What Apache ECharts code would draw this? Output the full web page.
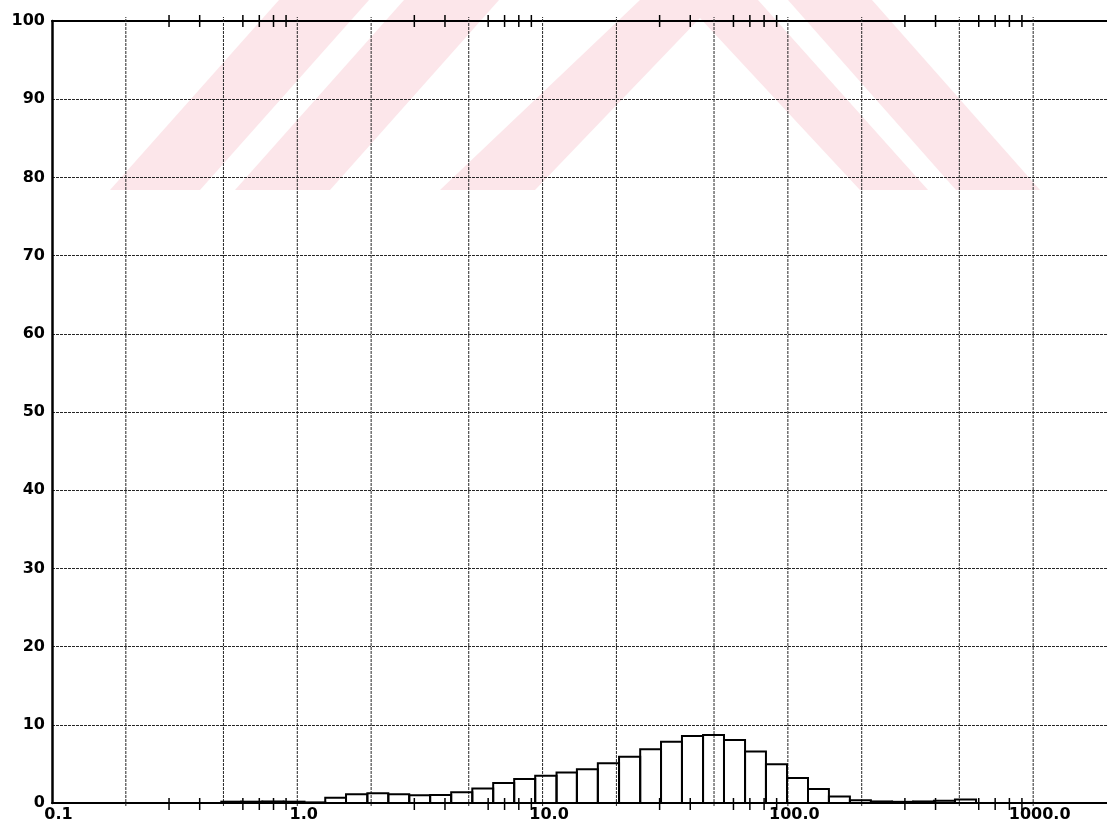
<!DOCTYPE html>
<html>
<head>
<meta charset="utf-8">
<title>Particle size distribution</title>
<script src="https://cdn.jsdelivr.net/npm/echarts@6/dist/echarts.min.js"></script>
<style>
  html, body { margin: 0; padding: 0; background: #ffffff; }
  #chart { width: 1107px; height: 829px; }
</style>
</head>
<body>
<div id="chart"></div>
<script>
// Size classes (lower/upper edges, log-spaced) and volume % in each class
const binEdges = [0.49, 0.59, 0.72, 0.88, 1.07, 1.30, 1.58, 1.93, 2.35, 2.86, 3.48,
  4.24, 5.17, 6.29, 7.66, 9.33, 11.4, 13.8, 16.8, 20.5, 25.0, 30.4, 37.0, 45.1,
  54.9, 66.9, 81.4, 99.2, 120.8, 147, 179, 218, 266, 324, 394, 480, 585];
const binValues = [0.17, 0.17, 0.2, 0.17, 0.08, 0.68, 1.11, 1.24, 1.11, 0.98, 1.02,
  1.38, 1.85, 2.55, 3.07, 3.49, 3.91, 4.33, 5.07, 5.92, 6.87, 7.84, 8.57, 8.70,
  8.06, 6.58, 4.95, 3.2, 1.79, 0.84, 0.35, 0.2, 0.15, 0.2, 0.3, 0.45];

// Axis layout
const xLabelValues = [0.1, 1, 10, 100, 1000];
const xGridValues = [0.2, 0.5, 1, 2, 5, 10, 20, 50, 100, 200, 500, 1000];
const xMinorTicks = [0.3, 0.4, 0.6, 0.7, 0.8, 0.9, 3, 4, 6, 7, 8, 9,
  30, 40, 60, 70, 80, 90, 300, 400, 600, 700, 800, 900];

const bars = binValues.map((v, i) => [binEdges[i], binEdges[i + 1], v]);

const labelFont = { fontFamily: 'DejaVu Sans', fontWeight: 'bold', fontSize: 16, color: '#000' };
const gridLineStyle = { stroke: '#262626', lineWidth: 1, lineDash: [3, 1] };
const stampFill = '#fce6ea';

const chart = echarts.init(document.getElementById('chart'), null, { renderer: 'canvas' });

chart.setOption({
  animation: false,
  backgroundColor: '#ffffff',
  graphic: [
    {
      // faint stamp in the upper part of the sheet
      type: 'group', z: -10, silent: true,
      children: [
        { type: 'polygon', shape: { points: [[110, 190], [200, 190], [369, 0], [279, 0]] }, style: { fill: stampFill } },
        { type: 'polygon', shape: { points: [[235, 190], [330, 190], [499, 0], [404, 0]] }, style: { fill: stampFill } },
        { type: 'polygon', shape: { points: [[440, 190], [535, 190], [700, 18], [860, 190], [928, 190], [758, 0], [640, 0]] }, style: { fill: stampFill } },
        { type: 'polygon', shape: { points: [[788, 0], [872, 0], [1040, 190], [956, 190]] }, style: { fill: stampFill } }
      ]
    }
  ],
  grid: { left: 52, top: 21, width: 1059, height: 782, show: false },
  xAxis: [
    {
      type: 'log', logBase: 10, min: 0.1, max: 2000, position: 'bottom',
      axisLine: { show: true, lineStyle: { color: '#000', width: 2 } },
      axisTick: { show: false },
      splitLine: { show: false },
      axisLabel: {
        customValues: xLabelValues,
        formatter: v => Number(v).toFixed(1),
        margin: 4, padding: [0, 0, 0, 13],
        ...labelFont
      }
    },
    {
      type: 'log', logBase: 10, min: 0.1, max: 2000, position: 'top',
      axisLine: { show: true, lineStyle: { color: '#000', width: 2 } },
      axisTick: { show: false }, axisLabel: { show: false }, splitLine: { show: false }
    }
  ],
  yAxis: {
    type: 'value', min: 0, max: 100, interval: 10,
    axisLine: { show: true, lineStyle: { color: '#000', width: 2.5 } },
    axisTick: { show: false },
    splitLine: { show: true, lineStyle: { color: '#262626', width: 1, type: [3, 1] } },
    axisLabel: { margin: 7, padding: [0, 0, 12, 0], ...labelFont }
  },
  series: [
    {
      // vertical grid lines at 1, 2, 5 of each decade
      type: 'custom', coordinateSystem: 'cartesian2d', silent: true, z: 1,
      data: xGridValues.map(v => [v, 0]),
      renderItem: (params, api) => {
        const v = api.value(0);
        const a = api.coord([v, 0]);
        const b = api.coord([v, 100]);
        return { type: 'line', shape: { x1: a[0], y1: a[1] + 3, x2: b[0], y2: b[1] - 4 }, style: gridLineStyle };
      }
    },
    {
      // minor ticks crossing the top and bottom frame lines
      type: 'custom', coordinateSystem: 'cartesian2d', silent: true, z: 3,
      data: xMinorTicks.map(v => [v, 0]),
      renderItem: (params, api) => {
        const v = api.value(0);
        const a = api.coord([v, 0]);
        const b = api.coord([v, 100]);
        return {
          type: 'group', children: [
            { type: 'line', shape: { x1: a[0], y1: a[1] - 5, x2: a[0], y2: a[1] + 7 }, style: { stroke: '#000', lineWidth: 1.5 } },
            { type: 'line', shape: { x1: b[0], y1: b[1] - 6, x2: b[0], y2: b[1] + 6 }, style: { stroke: '#000', lineWidth: 1.5 } }
          ]
        };
      }
    },
    {
      // histogram of size classes
      type: 'custom', coordinateSystem: 'cartesian2d', z: 2,
      data: bars,
      renderItem: (params, api) => {
        const lo = api.coord([api.value(0), 0]);
        const hi = api.coord([api.value(1), api.value(2)]);
        return {
          type: 'rect',
          shape: { x: lo[0], y: hi[1], width: hi[0] - lo[0], height: lo[1] - hi[1] },
          style: { fill: 'none', stroke: '#000', lineWidth: 2 }
        };
      }
    }
  ]
});
</script>
</body>
</html>
